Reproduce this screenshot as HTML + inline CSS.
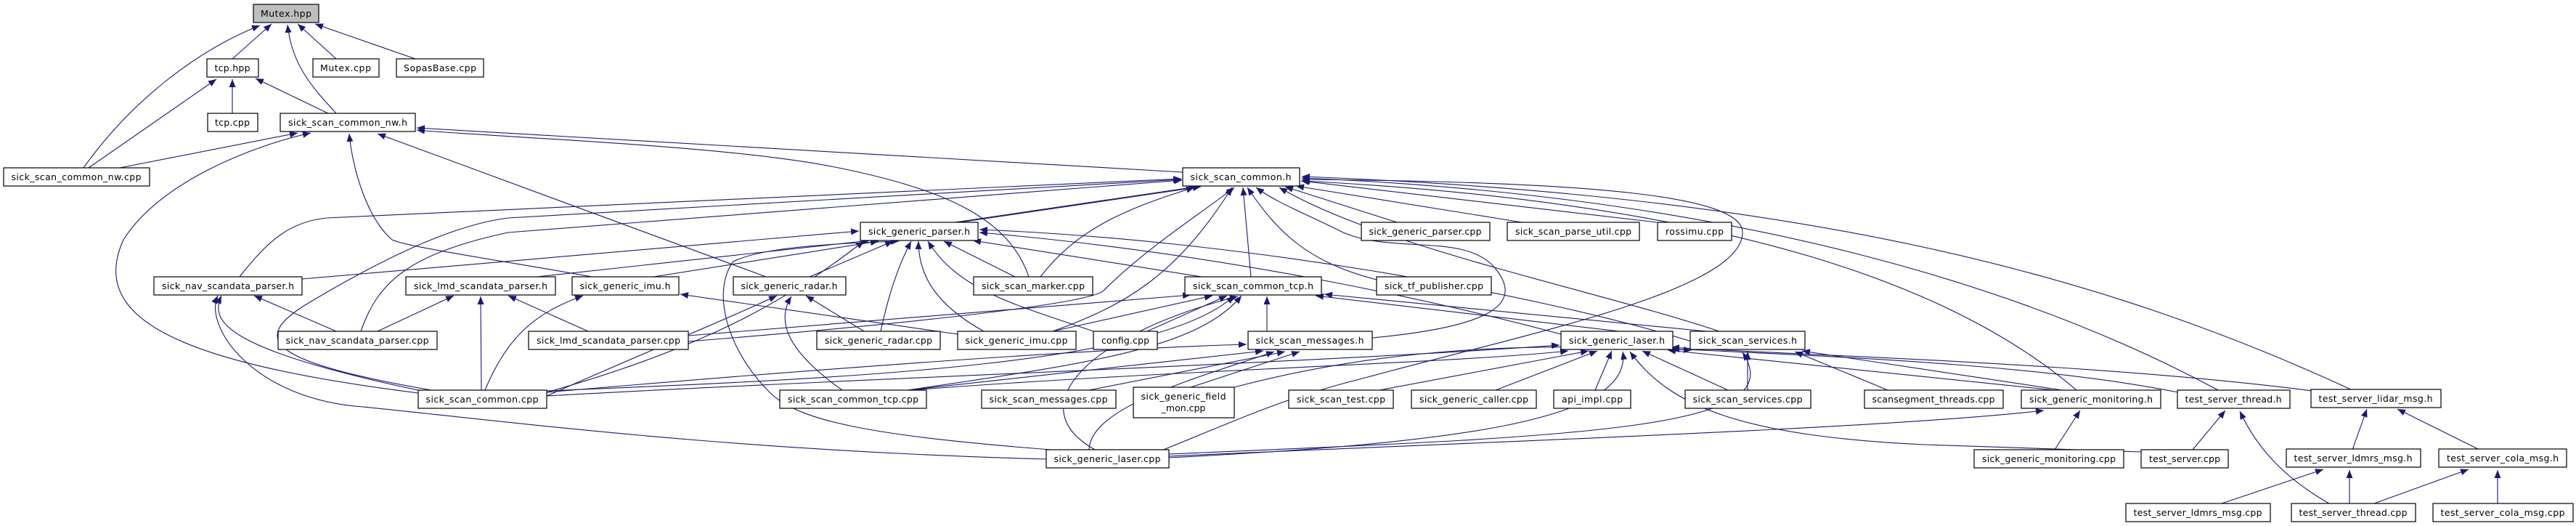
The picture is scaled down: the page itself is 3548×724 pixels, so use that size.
<!DOCTYPE html>
<html><head><meta charset="utf-8"><style>
html,body{margin:0;padding:0;background:#fff;width:3548px;height:724px;overflow:hidden}
svg{display:block}
.n rect{fill:#fff;stroke:#000;stroke-width:1.2}
.n text{font-family:"DejaVu Sans","Liberation Sans",sans-serif;font-size:12.5px;fill:#000;text-anchor:middle}
.e path{fill:none;stroke:#191970;stroke-width:1.1}
</style></head><body>
<svg width="3548" height="724" viewBox="0 0 3548 724" xmlns="http://www.w3.org/2000/svg">
<defs><marker id="a" markerUnits="userSpaceOnUse" markerWidth="12" markerHeight="9" refX="11" refY="4.5" orient="auto"><path d="M0,0 L11,4.5 L0,9 z" fill="#191970"/></marker></defs>
<g class="e" marker-end="url(#a)">
<path d="M320,81 L374,33"/>
<path d="M463,81 L410,33"/>
<path d="M572,81 L434,33"/>
<path d="M463,156 C430,120 402,90 396,34"/>
<path d="M115,231 C180,140 270,70 358,35"/>
<path d="M320,156 L320,109"/>
<path d="M452,156 L352,108"/>
<path d="M122,231 L298,109"/>
<path d="M165,231 L410,183"/>
<path d="M1629,237 L574,176"/>
<path d="M576,541 C250,500 120,440 170,330 C220,250 350,200 428,183"/>
<path d="M815,381 C700,360 560,340 540,330 C505,300 485,230 481,184"/>
<path d="M1055,381 L520,184"/>
<path d="M1417,381 C1390,300 1300,260 1150,230 C1000,200 700,190 574,179"/>
<path d="M330,381 C370,330 400,305 450,300 L1627,246"/>
<path d="M600,538 C380,500 340,470 420,420 C520,360 620,310 700,300 L1627,247"/>
<path d="M497,456 C520,390 560,350 700,320 L1628,248"/>
<path d="M948,470 C1200,450 1500,420 1520,400 C1580,340 1660,290 1700,258"/>
<path d="M1315,306 L1648,257"/>
<path d="M1322,306 L1654,257"/>
<path d="M1433,381 C1480,320 1540,290 1645,258"/>
<path d="M1450,456 C1550,420 1620,380 1697,258"/>
<path d="M1723,381 L1712,258"/>
<path d="M1924,306 L1770,257"/>
<path d="M2096,306 L1785,256"/>
<path d="M2282,306 L1792,249"/>
<path d="M1896,385 C1800,360 1760,320 1718,258"/>
<path d="M1890,465 C2050,450 2100,420 2060,370 C2020,320 1920,350 1850,320 C1790,290 1760,280 1730,258"/>
<path d="M1600,620 C1700,580 1760,550 1880,520 C2100,460 2400,400 2400,320 C2400,270 2200,250 1793,247"/>
<path d="M2368,456 C2200,400 1900,340 1762,258"/>
<path d="M2860,537 C2700,400 2400,280 1793,249"/>
<path d="M3055,537 C2800,400 2400,270 1793,245"/>
<path d="M3240,537 C2900,380 2500,270 1793,243"/>
<path d="M416,384 L1183,318"/>
<path d="M740,381 L1198,331"/>
<path d="M900,381 L1210,332"/>
<path d="M1115,381 L1230,332"/>
<path d="M1398,381 L1300,332"/>
<path d="M1213,456 C1225,400 1240,360 1255,332"/>
<path d="M1355,456 C1290,420 1265,380 1265,332"/>
<path d="M1506,456 C1400,420 1320,400 1278,332"/>
<path d="M1655,381 L1340,331"/>
<path d="M1460,620 C1200,600 1100,580 1060,540 C1000,480 980,400 1010,360 C1050,340 1150,335 1238,332"/>
<path d="M2150,460 C2000,420 1700,350 1349,320"/>
<path d="M2330,470 C2100,400 1700,330 1349,316"/>
<path d="M753,540 C1000,470 1100,400 1190,332"/>
<path d="M463,456 L350,407"/>
<path d="M590,540 C300,480 290,440 305,407"/>
<path d="M1441,632 C1000,620 700,580 500,560 C350,550 280,450 300,407"/>
<path d="M520,456 L625,407"/>
<path d="M663,537 L662,408"/>
<path d="M810,456 L700,407"/>
<path d="M668,537 C700,460 740,430 803,407"/>
<path d="M1319,460 L937,405"/>
<path d="M753,545 C900,480 1000,440 1070,407"/>
<path d="M1190,456 L1110,407"/>
<path d="M1160,537 C1080,480 1070,440 1090,408"/>
<path d="M948,462 L1640,406"/>
<path d="M1450,456 L1670,407"/>
<path d="M1580,456 L1690,407"/>
<path d="M1745,456 L1745,408"/>
<path d="M1250,537 C1500,500 1650,480 1710,407"/>
<path d="M753,538 C1200,520 1600,500 1700,407"/>
<path d="M1510,620 C1400,560 1500,460 1705,408"/>
<path d="M2230,456 L1812,407"/>
<path d="M2350,456 L1824,405"/>
<path d="M753,540 C1100,510 1500,480 1717,474"/>
<path d="M1250,537 L1740,483"/>
<path d="M1500,537 L1770,484"/>
<path d="M1640,533 L1790,484"/>
<path d="M1500,620 C1500,560 1650,520 1755,484"/>
<path d="M753,545 C1200,520 1800,500 2148,475"/>
<path d="M1255,537 C1600,510 2000,500 2160,483"/>
<path d="M1900,537 L2188,483"/>
<path d="M2060,537 L2200,483"/>
<path d="M2197,537 L2220,483"/>
<path d="M2380,537 L2262,483"/>
<path d="M1610,630 C2000,610 2250,580 2235,484"/>
<path d="M2830,537 L2297,482"/>
<path d="M3000,540 C2800,500 2500,490 2302,480"/>
<path d="M3200,540 C2900,500 2500,490 2302,478"/>
<path d="M2407,537 L2407,484"/>
<path d="M1610,625 C2200,600 2470,590 2400,485"/>
<path d="M2600,537 L2472,484"/>
<path d="M2840,537 L2482,483"/>
<path d="M1700,533 C1900,480 2100,470 2330,482"/>
<path d="M2830,619 L2865,565"/>
<path d="M1610,628 C2000,610 2600,590 2815,565"/>
<path d="M3020,619 L3065,565"/>
<path d="M3208,693 C3150,660 3110,620 3085,566"/>
<path d="M3240,619 L3260,563"/>
<path d="M3415,619 L3302,563"/>
<path d="M3060,693 L3200,646"/>
<path d="M3236,693 L3236,647"/>
<path d="M3270,693 L3400,646"/>
<path d="M3440,693 L3440,647"/>
<path d="M2950,622 L2650,612 C2400,600 2300,560 2245,484"/>
</g>
<g class="n">
<rect x="349" y="6" width="90" height="25" style="fill:#bfbfbf"/><text x="394" y="23" textLength="70">Mutex.hpp</text>
<rect x="285" y="81" width="71" height="25"/><text x="320" y="98" textLength="49">tcp.hpp</text>
<rect x="431" y="81" width="91" height="25"/><text x="476" y="98" textLength="70">Mutex.cpp</text>
<rect x="546" y="81" width="120" height="25"/><text x="606" y="98" textLength="100">SopasBase.cpp</text>
<rect x="286" y="156" width="69" height="25"/><text x="320" y="173" textLength="48">tcp.cpp</text>
<rect x="386" y="156" width="186" height="25"/><text x="479" y="173" textLength="164">sick_scan_common_nw.h</text>
<rect x="5" y="231" width="201" height="25"/><text x="105" y="248" textLength="179">sick_scan_common_nw.cpp</text>
<rect x="1629" y="231" width="161" height="25"/><text x="1709" y="248" textLength="139">sick_scan_common.h</text>
<rect x="1185" y="306" width="162" height="25"/><text x="1266" y="323" textLength="140">sick_generic_parser.h</text>
<rect x="1875" y="306" width="177" height="25"/><text x="1963" y="323" textLength="155">sick_generic_parser.cpp</text>
<rect x="2076" y="306" width="182" height="25"/><text x="2167" y="323" textLength="160">sick_scan_parse_util.cpp</text>
<rect x="2283" y="306" width="102" height="25"/><text x="2334" y="323" textLength="80">rossimu.cpp</text>
<rect x="212" y="381" width="204" height="25"/><text x="314" y="398" textLength="182">sick_nav_scandata_parser.h</text>
<rect x="559" y="381" width="206" height="25"/><text x="662" y="398" textLength="184">sick_lmd_scandata_parser.h</text>
<rect x="788" y="381" width="147" height="25"/><text x="861" y="398" textLength="125">sick_generic_imu.h</text>
<rect x="1010" y="381" width="155" height="25"/><text x="1087" y="398" textLength="133">sick_generic_radar.h</text>
<rect x="1341" y="381" width="164" height="25"/><text x="1423" y="398" textLength="142">sick_scan_marker.cpp</text>
<rect x="1632" y="381" width="188" height="25"/><text x="1726" y="398" textLength="166">sick_scan_common_tcp.h</text>
<rect x="1896" y="381" width="158" height="25"/><text x="1975" y="398" textLength="136">sick_tf_publisher.cpp</text>
<rect x="383" y="456" width="219" height="25"/><text x="492" y="473" textLength="197">sick_nav_scandata_parser.cpp</text>
<rect x="728" y="456" width="220" height="25"/><text x="838" y="473" textLength="198">sick_lmd_scandata_parser.cpp</text>
<rect x="1125" y="456" width="170" height="25"/><text x="1210" y="473" textLength="148">sick_generic_radar.cpp</text>
<rect x="1319" y="456" width="163" height="25"/><text x="1400" y="473" textLength="141">sick_generic_imu.cpp</text>
<rect x="1506" y="456" width="88" height="25"/><text x="1550" y="473" textLength="66">config.cpp</text>
<rect x="1719" y="456" width="171" height="25"/><text x="1804" y="473" textLength="149">sick_scan_messages.h</text>
<rect x="2150" y="456" width="154" height="25"/><text x="2227" y="473" textLength="132">sick_generic_laser.h</text>
<rect x="2328" y="456" width="158" height="25"/><text x="2407" y="473" textLength="136">sick_scan_services.h</text>
<rect x="576" y="537" width="177" height="25"/><text x="664" y="554" textLength="155">sick_scan_common.cpp</text>
<rect x="1074" y="537" width="202" height="25"/><text x="1175" y="554" textLength="180">sick_scan_common_tcp.cpp</text>
<rect x="1352" y="537" width="185" height="25"/><text x="1444" y="554" textLength="163">sick_scan_messages.cpp</text>
<rect x="1561" y="533" width="139" height="42"/><text x="1630" y="550" textLength="117">sick_generic_field</text><text x="1630" y="566">_mon.cpp</text>
<rect x="1775" y="537" width="144" height="25"/><text x="1847" y="554" textLength="122">sick_scan_test.cpp</text>
<rect x="1944" y="537" width="172" height="25"/><text x="2030" y="554" textLength="150">sick_generic_caller.cpp</text>
<rect x="2140" y="537" width="106" height="25"/><text x="2193" y="554" textLength="84">api_impl.cpp</text>
<rect x="2321" y="537" width="173" height="25"/><text x="2407" y="554" textLength="151">sick_scan_services.cpp</text>
<rect x="2568" y="537" width="191" height="25"/><text x="2663" y="554" textLength="169">scansegment_threads.cpp</text>
<rect x="2784" y="537" width="192" height="25"/><text x="2880" y="554" textLength="170">sick_generic_monitoring.h</text>
<rect x="2999" y="537" width="155" height="25"/><text x="3076" y="554" textLength="133">test_server_thread.h</text>
<rect x="3183" y="536" width="179" height="25"/><text x="3272" y="553" textLength="157">test_server_lidar_msg.h</text>
<rect x="1441" y="619" width="169" height="25"/><text x="1525" y="636" textLength="147">sick_generic_laser.cpp</text>
<rect x="2719" y="619" width="206" height="25"/><text x="2822" y="636" textLength="184">sick_generic_monitoring.cpp</text>
<rect x="2949" y="619" width="120" height="25"/><text x="3009" y="636" textLength="98">test_server.cpp</text>
<rect x="3149" y="618" width="185" height="25"/><text x="3241" y="635" textLength="163">test_server_ldmrs_msg.h</text>
<rect x="3359" y="618" width="176" height="25"/><text x="3447" y="635" textLength="154">test_server_cola_msg.h</text>
<rect x="2928" y="693" width="199" height="25"/><text x="3027" y="710" textLength="177">test_server_ldmrs_msg.cpp</text>
<rect x="3156" y="693" width="171" height="25"/><text x="3241" y="710" textLength="149">test_server_thread.cpp</text>
<rect x="3351" y="693" width="193" height="25"/><text x="3447" y="710" textLength="171">test_server_cola_msg.cpp</text>
</g>
</svg>
</body></html>
